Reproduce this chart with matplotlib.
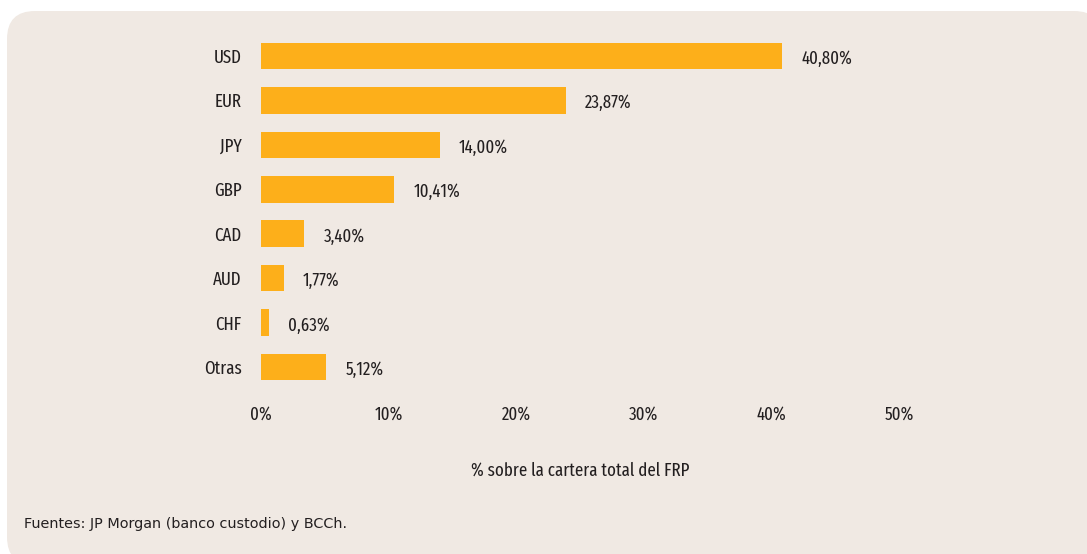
import matplotlib
matplotlib.use("Agg")
import matplotlib.pyplot as plt
from matplotlib.patches import FancyBboxPatch
from matplotlib import font_manager as fm

categories = ["USD", "EUR", "JPY", "GBP", "CAD", "AUD", "CHF", "Otras"]
values = [40.80, 23.87, 14.00, 10.41, 3.40, 1.77, 0.63, 5.12]
value_labels = ["40,80%", "23,87%", "14,00%", "10,41%", "3,40%", "1,77%", "0,63%", "5,12%"]
xticks = [0, 10, 20, 30, 40, 50]
xtick_labels = ["0%", "10%", "20%", "30%", "40%", "50%"]
xlabel = "% sobre la cartera total del FRP"
footnote = "Fuentes: JP Morgan (banco custodio) y BCCh."

BAR = "#FDAF1A"
BG = "#F0E9E3"
TXT = "#231F20"

available = {f.name for f in fm.fontManager.ttflist}
prefs = ["Fira Sans Extra Condensed", "Barlow Condensed", "Roboto Condensed",
         "PT Sans Narrow", "Archivo Narrow", "Liberation Sans Narrow", "DejaVu Sans"]
chosen = next(n for n in prefs if n in available)
NARROW = [chosen, "DejaVu Sans"]

fig = plt.figure(figsize=(10.87, 5.54), dpi=100)
fig.patch.set_facecolor("white")

panel = FancyBboxPatch((0.07, -0.11), 10.95, 5.54,
                       boxstyle="round,pad=0,rounding_size=0.28",
                       transform=fig.dpi_scale_trans, facecolor=BG,
                       edgecolor="none", zorder=-10)
fig.patches.append(panel)

# pick a font size so the axis title has the reference width (~218 px)
renderer = fig.canvas.get_renderer()
probe = fig.text(0, 0, xlabel, family=NARROW, fontsize=10)
w10 = probe.get_window_extent(renderer).width
probe.remove()
FS = 10 * 218.0 / w10

ax = fig.add_axes([261/1087, 1 - 389.2/554, 638/1087, 355.4/554])
ax.set_zorder(5)
ax.set_facecolor("none")
pos = list(range(len(categories)))
ax.barh(pos, values, height=0.6, color=BAR, edgecolor="none")
ax.set_ylim(len(categories) - 0.5, -0.5)
ax.set_xlim(0, 50)
ax.set_yticks(pos)
ax.set_yticklabels(categories, family=NARROW, fontsize=FS, color=TXT)
ax.set_xticks(xticks)
ax.set_xticklabels(xtick_labels, family=NARROW, fontsize=FS, color=TXT)
ax.tick_params(axis="both", length=0)
ax.tick_params(axis="y", pad=14)
ax.tick_params(axis="x", pad=12)
for s in ax.spines.values():
    s.set_visible(False)

for p, v, lab in zip(pos, values, value_labels):
    ax.annotate(lab, (v, p), xytext=(14, -2), textcoords="offset points",
                ha="left", va="center", family=NARROW, fontsize=FS, color=TXT)

ax.set_xlabel(xlabel, family=NARROW, fontsize=FS, color=TXT, labelpad=27.5)

fig.text(24/1087, 1 - 524/554, footnote, family="DejaVu Sans", fontsize=10.4,
         color=TXT, ha="left", va="center", zorder=6)

fig.savefig("out.png", dpi=100, facecolor=fig.get_facecolor())
